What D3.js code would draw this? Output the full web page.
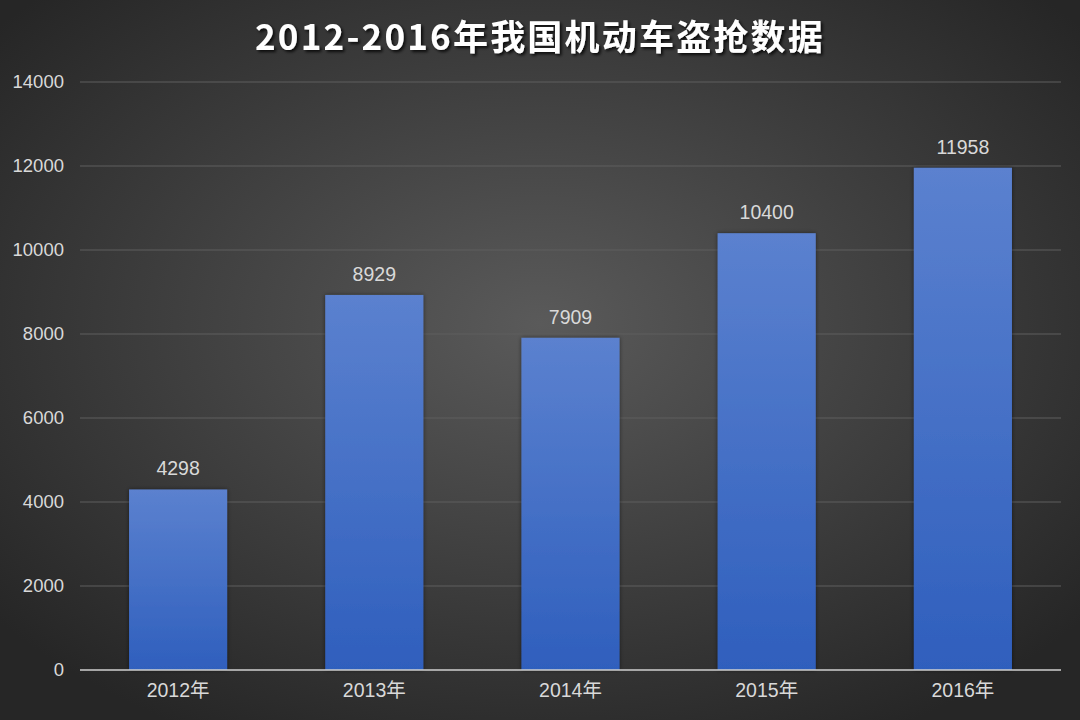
<html>
<script src='https://d3js.org/d3.v7.min.js'></script>
<style>
body { margin: 0; background: #333; }
text { font-family: "Liberation Sans", "Noto Sans CJK SC", sans-serif; }
</style>
<body>
<svg width=1080 height=720></svg>
<script>
var years = ["2012年", "2013年", "2014年", "2015年", "2016年"]
var values = [4298, 8929, 7909, 10400, 11958]
var yTicks = [0, 2000, 4000, 6000, 8000, 10000, 12000, 14000]
var title = "2012-2016年我国机动车盗抢数据"

var svg = d3.select("svg")
var defs = svg.append("defs")

var bg = defs.append("radialGradient").attr("id", "bg")
  .attr("cx", "50%").attr("cy", "45%").attr("r", "65%")
bg.append("stop").attr("offset", "0%").attr("stop-color", "#5a5a5a")
bg.append("stop").attr("offset", "100%").attr("stop-color", "#262626")

var barGrad = defs.append("linearGradient").attr("id", "bar")
  .attr("x1", 0).attr("y1", 0).attr("x2", 0).attr("y2", 1)
barGrad.append("stop").attr("offset", "0%").attr("stop-color", "#5b81cf")
barGrad.append("stop").attr("offset", "100%").attr("stop-color", "#2f5fbd")

var shadow = defs.append("filter").attr("id", "shadow")
  .attr("x", "-10%").attr("y", "-10%").attr("width", "130%").attr("height", "140%")
shadow.append("feDropShadow").attr("dx", 2).attr("dy", 2).attr("stdDeviation", 1.5)
  .attr("flood-color", "#000").attr("flood-opacity", 0.8)

var barShadow = defs.append("filter").attr("id", "barShadow")
  .attr("x", "-20%").attr("y", "-10%").attr("width", "140%").attr("height", "120%")
barShadow.append("feDropShadow").attr("dx", 0).attr("dy", 0).attr("stdDeviation", 2)
  .attr("flood-color", "#000").attr("flood-opacity", 0.5)

svg.append("rect").attr("width", 1080).attr("height", 720).attr("fill", "url(#bg)")

var x = d3.scaleBand().domain(years).range([80, 1061]).paddingInner(0.5).paddingOuter(0.25)
var y = d3.scaleLinear().domain([0, 14000]).range([670, 82])

// gridlines
svg.append("g").selectAll("line").data(yTicks.slice(1)).enter().append("line")
  .attr("x1", 80).attr("x2", 1061)
  .attr("y1", function(d) { return y(d) }).attr("y2", function(d) { return y(d) })
  .attr("stroke", "#5f5f5f").attr("stroke-width", 1)

// y axis labels
var yAxis = svg.append("g").attr("transform", "translate(80,0)")
  .call(d3.axisLeft(y).tickValues(yTicks).tickSize(0).tickPadding(16).tickFormat(d3.format("d")))
yAxis.select(".domain").remove()
yAxis.selectAll("text").attr("fill", "#d9d9d9").attr("font-size", 18.5)

// bars
svg.append("g").selectAll("rect").data(values).enter().append("rect")
  .attr("x", function(d, i) { return x(years[i]) })
  .attr("y", function(d) { return y(d) })
  .attr("width", x.bandwidth())
  .attr("height", function(d) { return y(0) - y(d) })
  .attr("fill", "url(#bar)")
  .attr("filter", "url(#barShadow)")

// value labels
svg.append("g").selectAll("text").data(values).enter().append("text")
  .attr("x", function(d, i) { return x(years[i]) + x.bandwidth() / 2 })
  .attr("y", function(d) { return y(d) - 14 })
  .attr("text-anchor", "middle")
  .attr("fill", "#d9d9d9").attr("font-size", 19.5)
  .text(function(d) { return d })

// x axis
var xAxis = svg.append("g").attr("transform", "translate(0,670)")
  .call(d3.axisBottom(x).tickSize(0).tickPadding(13))
xAxis.select(".domain").attr("stroke", "#d0d0d0").attr("stroke-width", 1.5)
  .attr("d", "M80,0H1061")
xAxis.selectAll("text").attr("fill", "#d9d9d9").attr("font-size", 19.5)

// title
svg.append("text").attr("x", 540).attr("y", 50)
  .attr("text-anchor", "middle")
  .attr("fill", "#ffffff").attr("font-size", 35).attr("font-weight", "bold")
  .attr("letter-spacing", 2.2)
  .attr("filter", "url(#shadow)")
  .style("font-family", "'Noto Sans CJK SC', sans-serif")
  .text(title)
</script>
</body>
</html>
